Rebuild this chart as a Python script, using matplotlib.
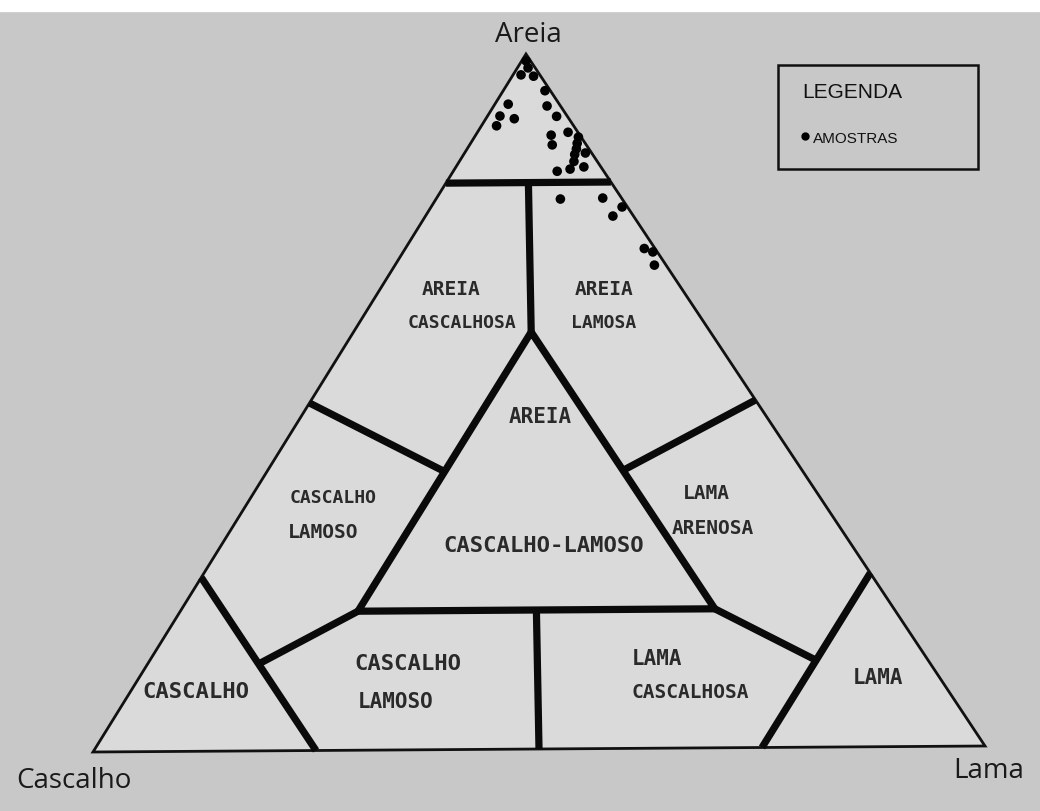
import matplotlib
matplotlib.use("Agg")
import matplotlib.pyplot as plt
import numpy as np
from matplotlib.patches import Polygon, Rectangle

# Sample compositions (%)
areia = [99.0, 98.0, 97.0, 96.8, 94.7, 92.8, 92.5, 91.1, 90.7, 91.0, 89.7, 88.7,
         88.3, 86.9, 88.0, 87.1, 86.3, 85.5, 84.5, 85.7, 83.4, 83.7, 83.1, 79.1,
         79.2, 77.9, 76.6, 71.9, 71.4, 69.5]
lama = [0.5, 1.2, 0.9, 2.4, 4.7, 1.5, 6.0, 1.4, 3.2, 7.8, 1.7, 10.2,
        8.5, 9.3, 11.7, 12.0, 12.3, 12.5, 12.9, 13.6, 13.0, 14.4, 11.7, 14.0,
        18.7, 21.5, 21.1, 26.9, 28.1, 29.2]
cascalho = [100 - a - l for a, l in zip(areia, lama)]

# Shepard class boundaries, (areia, cascalho, lama) in %
boundaries = [
    [(81.5, 18.5, 0.0), (81.5, 0.0, 18.5)],
    [(81.5, 9.25, 9.25), (60, 20, 20)],
    [(60, 20, 20), (20, 60, 20), (20, 20, 60), (60, 20, 20)],
    [(50, 50, 0), (40, 40, 20)],
    [(50, 0, 50), (40, 20, 40)],
    [(25, 75, 0), (0, 75, 25)],
    [(25, 0, 75), (0, 25, 75)],
    [(20, 60, 20), (12.5, 75, 12.5)],
    [(20, 20, 60), (12.5, 12.5, 75)],
    [(20, 40, 40), (0, 50, 50)],
]

# Corner positions of the triangle on the page (pixels)
P_AREIA = np.array([526.0, 55.0])
P_CASC = np.array([93.0, 753.0])
P_LAMA = np.array([985.0, 747.0])


def to_xy(a, c, l):
    a, c, l = (np.asarray(v, dtype=float) / 100.0 for v in (a, c, l))
    x = a * P_AREIA[0] + c * P_CASC[0] + l * P_LAMA[0]
    y = a * P_AREIA[1] + c * P_CASC[1] + l * P_LAMA[1]
    return x, y


fig = plt.figure(figsize=(10.4, 8.12), dpi=100)
fig.patch.set_facecolor('#c8c8c8')
ax = fig.add_axes([0, 0, 1, 1])
ax.set_xlim(0, 1040)
ax.set_ylim(812, 0)
ax.axis('off')

ax.add_patch(Rectangle((0, 0), 1040, 12, color='white', zorder=0))

# outer triangle
ax.add_patch(Polygon([P_AREIA, P_CASC, P_LAMA], closed=True, facecolor='#dadada',
                     edgecolor='#111111', lw=2.0, zorder=1))

for seg in boundaries:
    a, c, l = zip(*seg)
    x, y = to_xy(a, c, l)
    ax.plot(x, y, color='#0a0a0a', lw=5.2, solid_capstyle='butt',
            solid_joinstyle='miter', zorder=2)

# class labels
mono = dict(family='DejaVu Sans Mono', weight='bold', color='#2a2a2a',
            ha='center', va='center', zorder=3)
labels = [
    ('AREIA', 451, 290, 14), ('CASCALHOSA', 462, 323, 13),
    ('AREIA', 604, 290, 14), ('LAMOSA', 604, 323, 13),
    ('AREIA', 540, 417, 15),
    ('CASCALHO-LAMOSO', 544, 546, 16),
    ('CASCALHO', 333, 498, 13), ('LAMOSO', 323, 533, 14),
    ('LAMA', 706, 494, 14), ('ARENOSA', 713, 529, 14),
    ('CASCALHO', 196, 692, 16),
    ('CASCALHO', 408, 664, 16), ('LAMOSO', 396, 702, 15),
    ('LAMA', 657, 659, 15), ('CASCALHOSA', 690, 693, 14),
    ('LAMA', 878, 678, 15),
]
for txt, x, y, fs in labels:
    ax.text(x, y, txt, fontsize=fs, **mono)

# samples
sx, sy = to_xy(areia, cascalho, lama)
ax.scatter(sx, sy, s=48, color='black', edgecolors='none', zorder=4)

# vertex names
vert = dict(family='Open Sans', fontsize=20, color='#1a1a1a', ha='center', va='center')
ax.text(528, 35, 'Areia', **vert)
ax.text(74, 781, 'Cascalho', **vert)
ax.text(989, 771, 'Lama', **vert)

# legend box
ax.add_patch(Rectangle((778, 66), 200, 104, facecolor='none', edgecolor='#111111', lw=1.8, zorder=3))
ax.text(802, 93, 'LEGENDA', family='Liberation Sans', fontsize=15, color='#111111',
        ha='left', va='center')
ax.plot(805, 137, 'o', ms=5, color='black')
ax.text(813, 139, 'AMOSTRAS', family='Liberation Sans', fontsize=11, color='#111111',
        ha='left', va='center')

fig.savefig('out.png', dpi=100, facecolor=fig.get_facecolor())
